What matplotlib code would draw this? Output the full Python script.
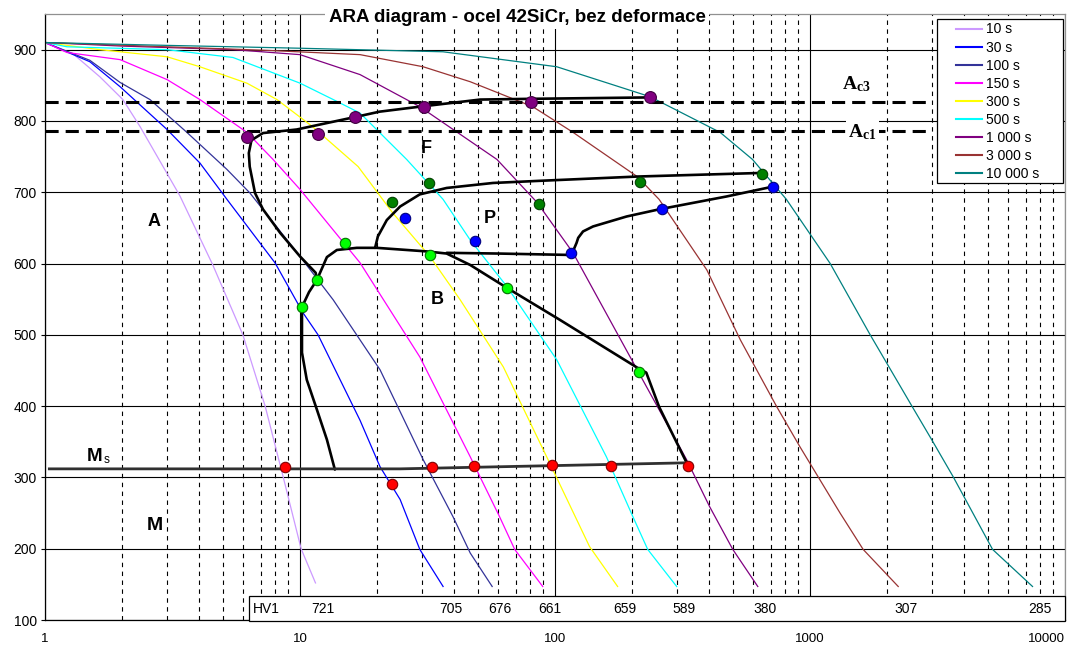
import matplotlib
matplotlib.use("Agg")
import matplotlib.pyplot as plt
import matplotlib.ticker as tkr
from matplotlib.patches import Rectangle

# cooling curves, time [s] vs. temperature [deg C]
curve_labels = ["10 s", "30 s", "100 s", "150 s", "300 s", "500 s", "1 000 s", "3 000 s", "10 000 s"]
curve_colors = ["#CC99FF", "#0000FF", "#333399", "#FF00FF", "#FFFF00", "#00FFFF", "#800080", "#993333", "#008080"]

t_10 = [1, 1.3, 1.64, 2.02, 2.36, 3.38, 4.55, 5.97, 7.3, 8.6, 10.1, 11.5]
T_10 = [910, 893, 862, 830, 792, 695, 598, 500, 400, 300, 200, 152]
t_30 = [1, 1.5, 1.97, 3.01, 4.05, 5.17, 7.98, 10.27, 11.77, 17.2, 20.6, 24.7, 29.5, 36.4]
T_30 = [910, 883, 848, 788, 741, 690, 601, 531, 500, 380, 315, 269, 199, 147]
t_100 = [1, 1.5, 1.97, 2.58, 3.6, 5.17, 6.36, 10.0, 13.5, 20.6, 30.4, 39.8, 46.5, 56.7]
T_100 = [910, 885, 854, 830, 784, 732, 699, 610, 549, 451, 325, 245, 194, 147]
t_150 = [1, 1.22, 1.97, 3.01, 4.05, 6.19, 7.84, 10.0, 17.2, 29.5, 46.5, 60.6, 69.5, 89.5]
T_150 = [910, 896, 886, 858, 830, 784, 746, 704, 601, 469, 329, 245, 199, 147]
t_300 = [1, 1.64, 3.01, 4.05, 6.19, 8.12, 11.2, 16.9, 23.1, 32.3, 42.5, 62.7, 93.9, 136.6, 176]
T_300 = [910, 900, 890, 876, 853, 830, 792, 736, 671, 610, 549, 455, 325, 203, 147]
t_500 = [1, 1.22, 3.01, 5.46, 10.0, 13.5, 17.2, 26.2, 36.4, 46.5, 64.7, 101.6, 159, 202, 231, 300]
T_500 = [910, 904, 900, 889, 853, 830, 811, 746, 690, 633, 568, 465, 329, 245, 199, 147]
t_1000 = [1, 2, 5.46, 10, 17.2, 29.5, 59.2, 84.9, 117.7, 210, 328, 404, 498, 624]
T_1000 = [910, 905, 900, 893, 865, 820, 746, 686, 615, 451, 325, 259, 199, 147]
t_3000 = [1, 3, 7.42, 17.2, 30.4, 46.5, 81.8, 117.7, 210, 256, 394, 533, 741, 913, 1312, 1616, 2218]
T_3000 = [910, 904, 899, 893, 876, 855, 820, 784, 722, 690, 591, 493, 399, 343, 250, 199, 147]
t_10000 = [1, 3, 10, 36.4, 101.6, 236, 444, 595, 808, 1200, 1722, 2510, 3000, 3642, 5200, 7459]
T_10000 = [910, 906, 902, 897, 876, 834, 784, 746, 690, 600, 500, 400, 353, 301, 199, 147]

# final hardness HV1 for each cooling curve
hardness = ["721", "705", "676", "661", "659", "589", "380", "307", "285"]

# transformation lines
ferrite_t = [236, 79.6, 50.9, 29.5, 20.5, 16.7, 9.71, 7.16, 6.45, 6.3, 6.35, 6.66, 7.16, 8.36, 10.0, 11.52, 11.65]
ferrite_T = [833, 831, 830, 820, 813, 806, 788, 783, 773, 755, 736, 699, 676, 643, 610, 587, 577]
bainite_t = [13.7, 12.75, 11.65, 10.63, 10.18, 10.18, 10.18, 10.85, 11.65, 12.75, 13.95, 16.7, 20.0, 31.4, 37.6,
             46.5, 64.7, 104.5, 210, 228, 256, 331]
bainite_T = [311, 353, 395, 437, 475, 507, 539, 560, 577, 609, 619, 622, 622, 617, 614,
             598, 566, 521, 454, 447, 399, 318]
pearlite_t = [19.7, 20.2, 21.9, 24.7, 29.5, 37.6, 57.1, 87.0, 210, 635]
pearlite_T = [622, 638, 661, 680, 697, 706, 713, 716, 722, 727]
pearlite_end_t = [37.6, 60, 116, 121.5, 123.3, 128.8, 141, 191, 256, 470, 718]
pearlite_end_T = [615, 614, 612, 629, 636, 645, 652, 666, 676, 694, 708]
ms_t = [1.04, 13.7, 24.7, 97.3, 331]
ms_T = [312, 312, 312, 316.5, 320.5]

Ac3 = 827
Ac1 = 786

# measured points
fs_t = [6.2, 11.8, 16.4, 30.6, 80.5, 236]
fs_T = [777, 782, 806, 819, 826, 834]
ps_t = [22.9, 32.1, 86.7, 215, 651]
ps_T = [687, 713, 683, 715, 725]
pf_t = [25.8, 48.4, 116, 262, 718]
pf_T = [664, 631, 615, 677, 708]
bs_t = [10.2, 11.65, 15.0, 32.4, 64.7, 214]
bs_T = [539, 577, 629, 612, 566, 448]
ms_pt_t = [8.7, 22.9, 32.9, 48.3, 97.3, 166, 331]
ms_pt_T = [315, 291, 315, 316, 318, 316, 316]

xticks = [1, 10, 100, 1000, 10000]
xtick_labels = ["1", "10", "100", "1000", "10000"]
yticks = [100, 200, 300, 400, 500, 600, 700, 800, 900]


def main():
    plt.rcParams['font.family'] = ['Liberation Sans', 'DejaVu Sans']
    plt.rcParams['mathtext.fontset'] = 'custom'
    plt.rcParams['mathtext.rm'] = 'Liberation Serif:bold'
    plt.rcParams['mathtext.bf'] = 'Liberation Serif:bold'

    fig = plt.figure(figsize=(10.87, 6.48), dpi=100)
    ax = fig.add_axes([45 / 1087, 28 / 648, 1020 / 1087, 606 / 648])
    ax.set_xscale('log')
    ax.set_xlim(1, 10000)
    ax.set_ylim(100, 950)

    ax.set_xticks(xticks)
    ax.set_xticklabels(xtick_labels)
    ax.set_yticks(yticks)
    ax.xaxis.set_minor_locator(tkr.LogLocator(base=10, subs=range(2, 10), numticks=20))
    ax.xaxis.set_minor_formatter(tkr.NullFormatter())
    ax.tick_params(axis='x', which='both', length=0, pad=9, labelsize=9.5)
    ax.tick_params(axis='y', which='major', length=3, width=0.8, pad=3, labelsize=10)
    # keep the last x label inside the figure
    ax.get_xticklabels()[-1].set_horizontalalignment('right')
    ax.get_xticklabels()[-1].set_x(10000)

    ax.set_axisbelow(True)
    ax.grid(which='major', color='k', linewidth=0.8)
    ax.grid(which='minor', axis='x', color='k', linewidth=0.8, linestyle=(0, (4, 4)))
    for s in ['left', 'bottom']:
        ax.spines[s].set_color('k')
        ax.spines[s].set_linewidth(0.9)
    for s in ['top', 'right']:
        ax.spines[s].set_color('#909090')
        ax.spines[s].set_linewidth(0.9)

    curves = [(t_10, T_10), (t_30, T_30), (t_100, T_100), (t_150, T_150), (t_300, T_300),
              (t_500, T_500), (t_1000, T_1000), (t_3000, T_3000), (t_10000, T_10000)]
    handles = []
    for i, (tt, TT) in enumerate(curves):
        h, = ax.plot(tt, TT, color=curve_colors[i], linewidth=0.9, label=curve_labels[i], zorder=2)
        handles.append(h)

    # Ac3 / Ac1
    for a in [Ac3, Ac1]:
        ax.plot([1, 3000], [a, a], color='k', linewidth=2.2, linestyle=(0, (4.3, 2.3)), zorder=2.5)

    # transformation lines
    lk = dict(color='k', linewidth=1.9, zorder=3, solid_capstyle='round', solid_joinstyle='round')
    ax.plot(ferrite_t, ferrite_T, **lk)
    ax.plot(bainite_t, bainite_T, **lk)
    ax.plot(pearlite_t, pearlite_T, **lk)
    ax.plot(pearlite_end_t, pearlite_end_T, **lk)
    ax.plot(ms_t, ms_T, color='#303030', linewidth=2.0, zorder=3)

    mk = dict(linestyle='none', marker='o', markeredgewidth=0.8, zorder=4)
    ax.plot(fs_t, fs_T, markerfacecolor='#800080', markeredgecolor='#400040', markersize=8.5, **mk)
    ax.plot(ps_t, ps_T, markerfacecolor='#008000', markeredgecolor='#004000', markersize=7.5, **mk)
    ax.plot(pf_t, pf_T, markerfacecolor='#0000FF', markeredgecolor='#000080', markersize=7.5, **mk)
    ax.plot(bs_t, bs_T, markerfacecolor='#00FF00', markeredgecolor='#007000', markersize=7.5, **mk)
    ax.plot(ms_pt_t, ms_pt_T, markerfacecolor='#FF0000', markeredgecolor='#800000', markersize=7.5, **mk)

    # phase regions
    rk = dict(fontsize=13, fontweight='bold', ha='center', va='center', zorder=5)
    ax.text(2.68, 659, "A", **rk)
    ax.text(31.4, 761, "F", **rk)
    ax.text(55.6, 663, "P", **rk)
    ax.text(34.4, 549, "B", **rk)
    ax.text(2.7, 232, "M", fontsize=14, fontweight='bold', ha='center', va='center', zorder=5)
    ax.text(1.57, 330, "M", fontsize=13.5, fontweight='bold', ha='center', va='center', zorder=5)
    ax.annotate("s", xy=(1.57, 330), xytext=(6.5, -3), textcoords='offset points',
                fontsize=8.5, ha='left', va='center', zorder=5)

    ax.text(1335, 845, r"$\mathrm{A_{c3}}$", fontsize=14, ha='left', va='baseline', zorder=5)
    ax.text(1409, 777, r"$\mathrm{A_{c1}}$", fontsize=14, ha='left', va='baseline', zorder=5,
            bbox=dict(facecolor='white', edgecolor='none', pad=1.5))

    # hardness table
    ax.add_patch(Rectangle((6.31, 99), 10000 - 6.31, 133 - 99, facecolor='white', edgecolor='k',
                           linewidth=0.9, clip_on=False, zorder=4))
    ax.text(6.54, 116, "HV1", fontsize=10, ha='left', va='center', zorder=5)
    for i, (tt, TT) in enumerate(curves):
        ax.text(tt[-1] * 1.07, 116, hardness[i], fontsize=10, ha='center', va='center', zorder=5)

    # legend with its own frame
    ax.add_patch(Rectangle((0.8745, 0.721), 0.1235, 0.2707, transform=ax.transAxes,
                           facecolor='white', edgecolor='k', linewidth=0.9, zorder=6))
    leg = ax.legend(handles=handles, loc='upper left', bbox_to_anchor=(0.893, 0.986),
                    frameon=False, prop={'size': 10}, handlelength=1.9, handletextpad=0.3,
                    labelspacing=0.29, borderpad=0, borderaxespad=0)
    leg.set_zorder(7)
    for line in leg.get_lines():
        line.set_linewidth(1.5)

    fig.text(517 / 1087, 1 - 17 / 648, "ARA diagram - ocel 42SiCr, bez deformace", fontsize=13.5,
             fontweight='bold', ha='center', va='center',
             bbox=dict(facecolor='white', edgecolor='none', pad=2.5))

    fig.savefig("out.png", dpi=100)


if __name__ == "__main__":
    main()
